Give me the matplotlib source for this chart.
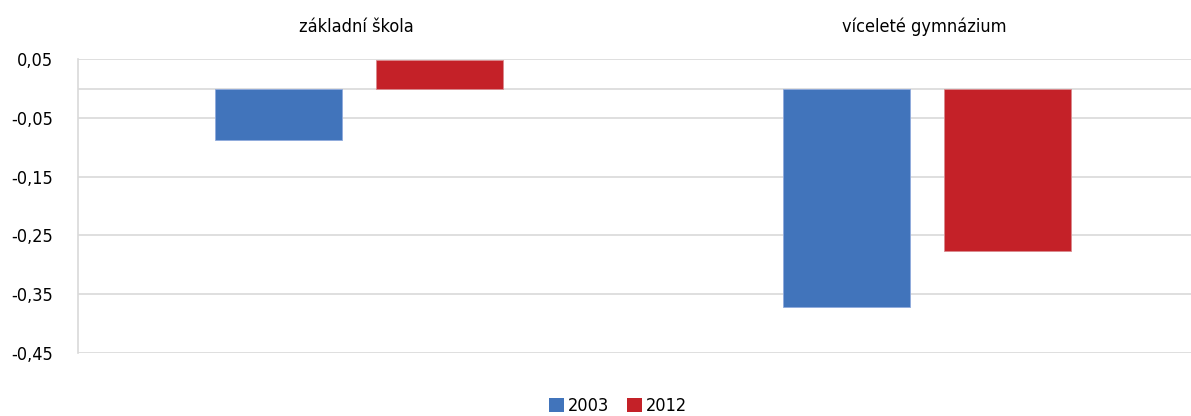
import matplotlib
matplotlib.use("Agg")
import matplotlib.pyplot as plt
from matplotlib.patches import Patch

categories = ["základní škola", "víceleté gymnázium"]
series_names = ["2003", "2012"]
values_2003 = [-0.0875, -0.372]
values_2012 = [0.049, -0.2765]
yticks = [0.05, -0.05, -0.15, -0.25, -0.35, -0.45]
ytick_labels = ["0,05", "-0,05", "-0,15", "-0,25", "-0,35", "-0,45"]

colors = ["#4174BB", "#C42128"]

plt.rcParams["font.family"] = ["DejaVu Sans"]
plt.rcParams["font.stretch"] = "condensed"
FS = 13

W, H = 1191, 416
fig = plt.figure(figsize=(W / 100, H / 100), dpi=100)
left_px, right_px, top_px, bot_px = 78, 1191, 59.3, 352.7
ax = fig.add_axes([left_px / W, 1 - bot_px / H, (right_px - left_px) / W, (bot_px - top_px) / H])

x = list(range(len(categories)))
bw = 0.223
off = 0.1415
ax.bar([i - off for i in x], values_2003, width=bw, color=colors[0], edgecolor="#8FAADC", linewidth=0.6, zorder=3)
ax.bar([i + off for i in x], values_2012, width=bw, color=colors[1], edgecolor="#D98A8E", linewidth=0.6, zorder=3)

ax.set_xlim(-0.4947, 1.4648)
ax.set_ylim(-0.45, 0.05)
ax.set_yticks(yticks)
ax.set_yticklabels(ytick_labels, fontsize=FS)
ax.set_xticks([])
for y in yticks + [0.0]:
    ax.axhline(y, color="#D9D9D9", linewidth=1.2, zorder=1)
for s in ["top", "right", "bottom"]:
    ax.spines[s].set_visible(False)
ax.spines["left"].set_color("#D9D9D9")
ax.spines["left"].set_linewidth(1.2)
ax.tick_params(axis="y", length=0, pad=18, colors="black")

for i, c in enumerate(categories):
    ax.text(i - 0.005, 1.0 + (59.3 - 27) / (bot_px - top_px), c, transform=ax.get_xaxis_transform(),
            ha="center", va="center", fontsize=FS)

handles = [Patch(facecolor=colors[0], label=series_names[0]), Patch(facecolor=colors[1], label=series_names[1])]
fig.legend(handles=handles, loc="center", bbox_to_anchor=(618 / W, 1 - 406 / H), ncol=2, frameon=False,
           fontsize=FS, handlelength=0.85, handleheight=0.85, handletextpad=0.2, columnspacing=1.0)

fig.savefig("out.png", dpi=100)
